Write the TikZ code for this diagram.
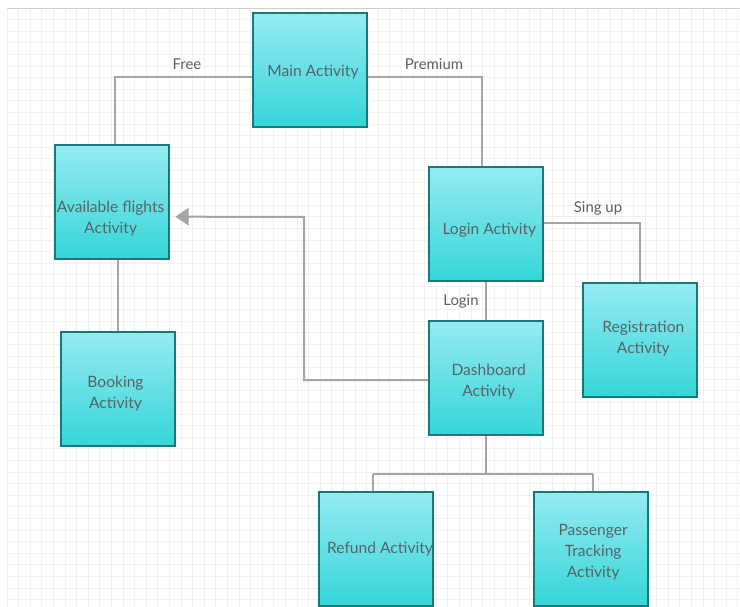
\documentclass[tikz,border=0pt]{standalone}
\usepackage{fontspec}
\setmainfont{Lato}
\usetikzlibrary{arrows.meta}
\definecolor{boxtop}{RGB}{150,234,242}
\definecolor{boxbot}{RGB}{52,214,216}
\definecolor{boxline}{RGB}{22,122,122}
\definecolor{txt}{RGB}{88,100,100}
\definecolor{lbl}{RGB}{95,95,95}
\definecolor{conn}{RGB}{165,165,165}
\definecolor{gridc}{RGB}{241,241,241}
\tikzset{
  actbox/.style={draw=boxline, line width=1.5pt, top color=boxtop, bottom color=boxbot,
    minimum width=85.5pt, minimum height=85.5pt, inner sep=0pt},
  boxtext/.style={align=center, text=txt, font=\fontsize{11.7}{15.8}\selectfont, inner sep=0pt},
  connline/.style={draw=conn, line width=1.5pt},
  lbltext/.style={text=lbl, font=\fontsize{11.2}{13}\selectfont, inner sep=1pt},
  gridline/.style={draw=gridc, line width=0.5pt}
}
\begin{document}
\begin{tikzpicture}[x=0.75pt,y=-0.75pt]
\useasboundingbox (0,0) rectangle (740,607);
\fill[white] (0,0) rectangle (740,607);
% grid
\foreach \gx in {7,18.6,...,740} \draw[gridline] (\gx,8) -- (\gx,607);
\foreach \gy in {8,19.6,...,607} \draw[gridline] (7,\gy) -- (740,\gy);
\draw[draw=gridc!70!gray, line width=0.6pt] (7,8) -- (740,8);
% boxes
\node[actbox] (main) at (310,70) {};
\node[actbox] (avail) at (112,202) {};
\node[actbox] (booking) at (117.5,388.5) {};
\node[actbox] (login) at (486,224) {};
\node[actbox] (reg) at (640,339.5) {};
\node[actbox] (dash) at (486,378) {};
\node[actbox] (refund) at (376,548.5) {};
\node[actbox] (pass) at (590.5,548.5) {};
% box texts
\node[boxtext] (maint) at ([xshift=2.2pt,yshift=-1.5pt]main.center) {Main Activity};
\node[boxtext] (availt) at ([xshift=-1pt,yshift=-12.5pt]avail.center) {Available flights\\Activity};
\node[boxtext] (bookingt) at ([xshift=-1.5pt,yshift=-4pt]booking.center) {Booking\\Activity};
\node[boxtext] (logint) at ([xshift=2.5pt,yshift=-5pt]login.center) {Login Activity};
\node[boxtext] (regt) at ([xshift=2.5pt,yshift=1pt]reg.center) {Registration\\Activity};
\node[boxtext] (dasht) at ([xshift=2pt,yshift=-3pt]dash.center) {Dashboard\\Activity};
\node[boxtext] (refundt) at ([xshift=3pt,yshift=-0.5pt]refund.center) {Refund Activity};
\node[boxtext] (passt) at ([xshift=2pt,yshift=-3pt]pass.center) {Passenger\\Tracking\\Activity};
% connectors
\draw[connline] ([yshift=-5pt]main.west) -| ([xshift=2pt]avail.north);
\draw[connline] ([yshift=-5pt]main.east) -| ([xshift=-3pt]login.north);
\draw[connline] ([yshift=1pt]login.east) -| (reg.north);
\draw[connline] (login.south) -- (dash.north);
\coordinate (ctop) at (304,217);
\draw[connline, -{Triangle[length=10pt,width=13pt]}] ([yshift=-1.5pt]dash.west) -| (ctop) -- ([xshift=4pt,yshift=-11pt]avail.east);
\draw[connline] (booking.north |- avail.south) -- (booking.north);
\coordinate (split) at (486,474);
\draw[connline] (dash.south) -- (split);
\draw[connline] ([xshift=-2pt]refund.north |- split) -- ([xshift=2pt]pass.north |- split);
\draw[connline] ([xshift=-2pt]refund.north |- split) -- ([xshift=-2pt]refund.north);
\draw[connline] ([xshift=2pt]pass.north |- split) -- ([xshift=2pt]pass.north);
% labels
\node[lbltext] (lfree) at (187,64) {Free};
\node[lbltext] (lprem) at (434,64) {Premium};
\node[lbltext] (lsing) at (598,208) {Sing up};
\node[lbltext] (llogin) at (461,301) {Login};
\end{tikzpicture}
\end{document}
